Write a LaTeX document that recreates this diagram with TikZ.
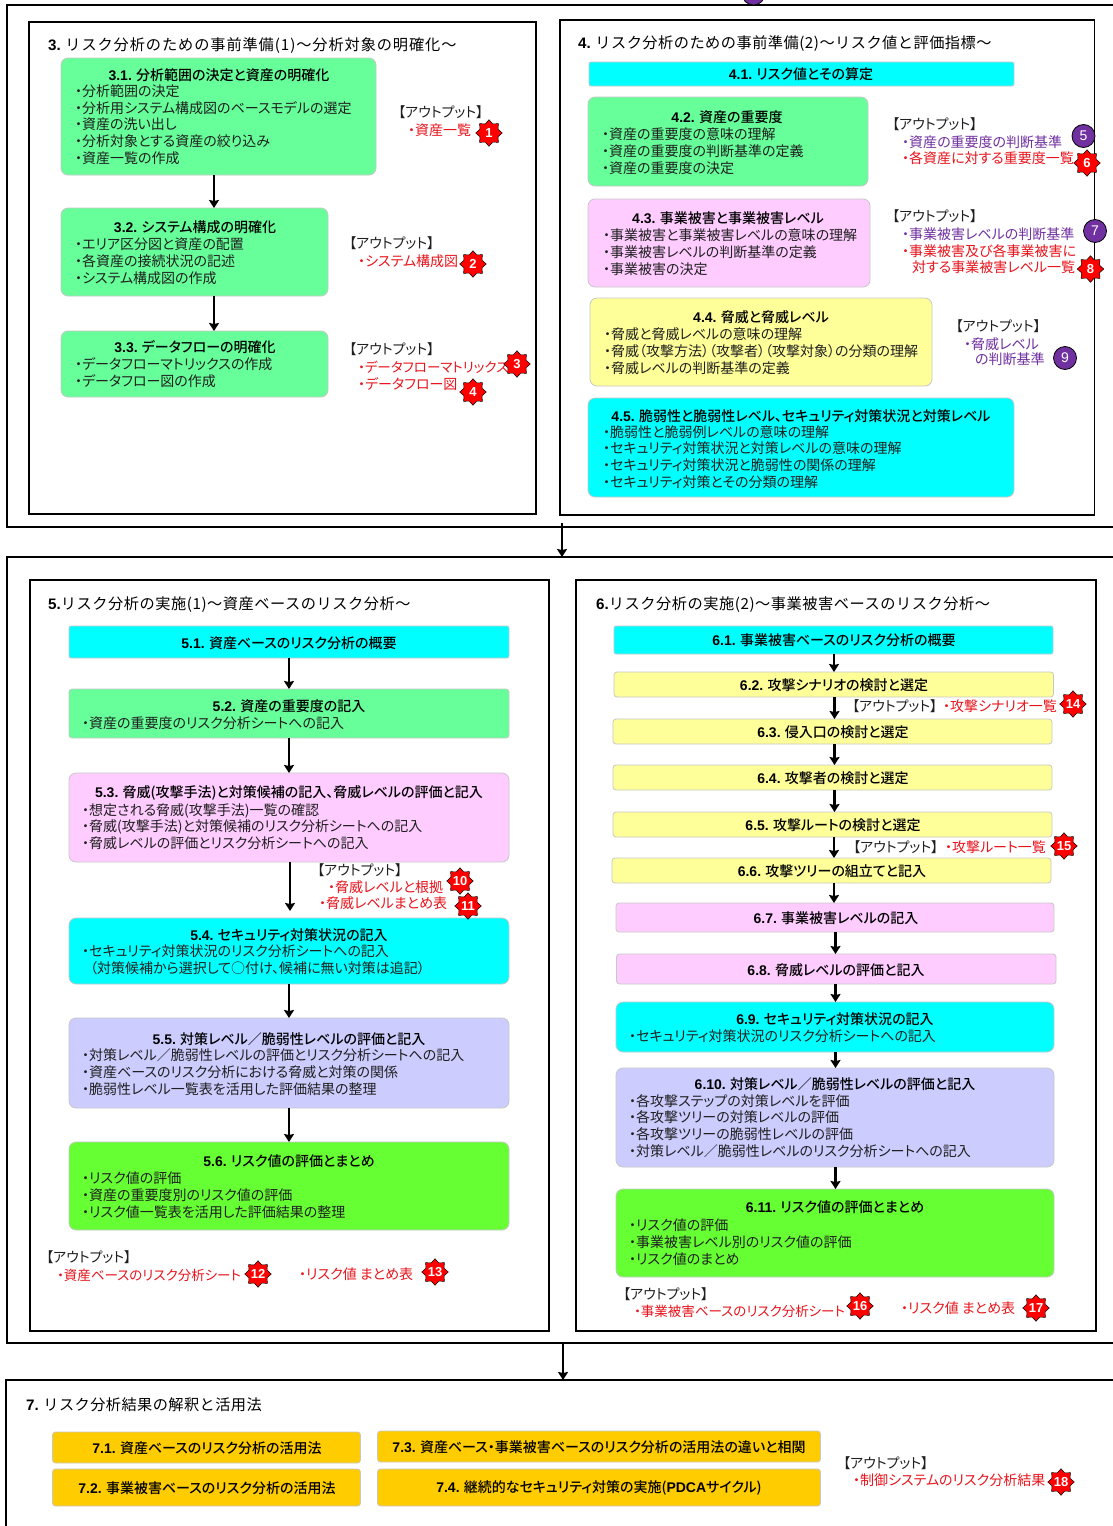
\documentclass[tikz,border=0pt]{standalone}
\usepackage{fontspec}
\usetikzlibrary{arrows.meta,shapes.geometric}
\setmainfont{Noto Sans CJK JP}[RawFeature={+palt},BoldFont={Noto Sans CJK JP Medium}]
\newfontfamily\wide{Noto Sans CJK JP}
\newfontfamily\lat{Liberation Sans}
\newcommand\nm[1]{{\lat\bfseries #1}}
\newcommand\snum[1]{\makebox[0pt]{#1}}
\newcommand\spaced[2]{\addfontfeature{LetterSpace=#1}#2}
\definecolor{cgreen}{HTML}{66FF99}
\definecolor{cpink}{HTML}{FFCCFF}
\definecolor{cyell}{HTML}{FFFF99}
\definecolor{ccyan}{HTML}{00FFFF}
\definecolor{clav}{HTML}{CCCCFF}
\definecolor{clime}{HTML}{66FF33}
\definecolor{corange}{HTML}{FFCC00}
\definecolor{cred}{HTML}{E8141C}
\definecolor{cpur}{HTML}{7030A0}
\tikzset{
 x=1pt,y=-1pt,
 framebox/.style={draw=black,line width=1.5pt,fill=white,anchor=north west,inner sep=0,outer sep=0},
 fbox/.style={draw=black!22,line width=.8pt,anchor=north west,inner sep=0,outer sep=0,rounded corners=7pt},
 thin box/.style={rounded corners=3pt},
 sect/.style={anchor=west,inner sep=0,font=\wide\fontsize{15.2}{18}\selectfont},
 ttl/.style={inner sep=0,font=\bfseries\fontsize{14}{17}\selectfont},
 lines/.style={anchor=west,align=left,inner sep=0,text=black!88,font=\fontsize{14}{16.75}\selectfont},
 outp/.style={anchor=west,inner sep=0,text=black!88,font=\fontsize{14}{16.75}\selectfont},
 redt/.style={outp,text=cred},
 purt/.style={outp,text=cpur},
 tight/.style={font=\fontsize{13.5}{16.75}\selectfont},
 arrow/.style={draw=black,line width=2.6pt,-{Stealth[length=8pt,width=10pt,inset=1pt]}},
 starb/.style={star,star points=8,star point ratio=1.35,minimum size=26.5pt,inner sep=0,fill=red,draw=black,line width=.5pt,text=white,font=\lat\bfseries\fontsize{13}{13}\selectfont},
 circb/.style={circle,minimum size=23pt,inner sep=0,fill=cpur,draw=black,line width=.8pt,text=white,font=\lat\fontsize{14}{14}\selectfont},
}
\newcommand{\flowbox}[7][]{\node[fbox,#1,fill=#3,minimum width={(#6-#4)*1pt},minimum height={(#7-#5)*1pt}] (#2) at (#4,#5) {};}
\newcommand{\frm}[5]{\node[framebox,minimum width={(#4-#2)*1pt},minimum height={(#5-#3)*1pt}] (#1) at (#2,#3) {};}
\begin{document}
\begin{tikzpicture}
\clip (0,0) rectangle (1113,1526);
\fill[white] (0,0) rectangle (1113,1526);
% outer frames
\frm{fa}{7}{5}{1135}{527}
\frm{fb}{7}{557}{1135}{1343}
\frm{fc}{6}{1380}{1135}{1545}
\node[circb] (topc) at (753.5,-6.5) {};
% inner frames
\frm{f3}{29}{22}{536}{514}
\frm{f4}{560}{20}{1094.5}{515}
\frm{f5}{30}{580}{549}{1331}
\frm{f6}{576}{580}{1096}{1331}
% section titles
\node[sect] (s3) at (48,46) {\nm{3.} \spaced{6}{リスク分析のための事前準備(1)～分析対象の明確化～}};
\node[sect] (s4) at (578,44) {\nm{4.} \spaced{3.2}{リスク分析のための事前準備(2)～リスク値と評価指標～}};
\node[sect] (s5) at (48,605) {\nm{5.}\spaced{3.6}{リスク分析の実施(1)～資産ベースのリスク分析～}};
\node[sect] (s6) at (596,605) {\nm{6.}\spaced{3.6}{リスク分析の実施(2)～事業被害ベースのリスク分析～}};
\node[sect] (s7) at (26,1405) {\nm{7.} \spaced{2.8}{リスク分析結果の解釈と活用法}};
% section 3
\flowbox{b31}{cgreen}{61}{58}{376}{175}
\flowbox{b32}{cgreen}{61}{208}{328}{296}
\flowbox{b33}{cgreen}{61}{331}{328}{397}
\node[ttl] (t31) at (219,75) {\nm{3.1.} 分析範囲の決定と資産の明確化};
\node[lines] (l31) at (75,124.5) {・分析範囲の決定\\・分析用システム構成図のベースモデルの選定\\・資産の洗い出し\\・分析対象とする資産の絞り込み\\・資産一覧の作成};
\node[ttl] (t32) at (195,227) {\nm{3.2.} システム構成の明確化};
\node[lines] (l32) at (75,261) {・エリア区分図と資産の配置\\・各資産の接続状況の記述\\・システム構成図の作成};
\node[ttl] (t33) at (195,347) {\nm{3.3.} データフローの明確化};
\node[lines] (l33) at (75,373) {・データフローマトリックスの作成\\・データフロー図の作成};
\draw[arrow] (214,0 |- b31.south) -- (214,0 |- b32.north);
\draw[arrow] (214,0 |- b32.south) -- (214,0 |- b33.north);
\node[outp] (o1) at (398,112) {【アウトプット】};
\node[redt] (r1) at (408,130) {・資産一覧};
\node[starb] (n1) at (489,133) {\snum{1}};
\node[outp] (o2) at (349,243) {【アウトプット】};
\node[redt] (r2) at (358,261) {・システム構成図};
\node[starb] (n2) at (473,264) {\snum{2}};
\node[outp] (o3) at (349,349) {【アウトプット】};
\node[redt,tight] (r3) at (358,367) {・データフローマトリックス};
\node[starb] (n3) at (517,364) {\snum{3}};
\node[redt] (r4) at (358,384) {・データフロー図};
\node[starb] (n4) at (473,392) {\snum{4}};
% section 4
\flowbox[rounded corners=2pt]{b41}{ccyan}{589}{62}{1014}{86}
\flowbox{b42}{cgreen}{588}{97}{868}{186}
\flowbox{b43}{cpink}{588}{199}{870}{287}
\flowbox{b44}{cyell}{590}{298}{932}{386}
\flowbox{b45}{ccyan}{588}{398}{1014}{497}
\node[ttl] (t41) at (801,74) {\nm{4.1.} リスク値とその算定};
\node[ttl] (t42) at (727,117) {\nm{4.2.} 資産の重要度};
\node[lines] (l42) at (602,151) {・資産の重要度の意味の理解\\・資産の重要度の判断基準の定義\\・資産の重要度の決定};
\node[ttl] (t43) at (728,218) {\nm{4.3.} 事業被害と事業被害レベル};
\node[lines] (l43) at (603,252) {・事業被害と事業被害レベルの意味の理解\\・事業被害レベルの判断基準の定義\\・事業被害の決定};
\node[ttl] (t44) at (761,317) {\nm{4.4.} 脅威と脅威レベル};
\node[lines] (l44) at (604,351) {・脅威と脅威レベルの意味の理解\\・脅威（攻撃方法）（攻撃者）（攻撃対象）の分類の理解\\・脅威レベルの判断基準の定義};
\node[ttl] (t45) at (801,416) {\nm{4.5.} 脆弱性と脆弱性レベル、セキュリティ対策状況と対策レベル};
\node[lines] (l45) at (603,457) {・脆弱性と脆弱例レベルの意味の理解\\・セキュリティ対策状況と対策レベルの意味の理解\\・セキュリティ対策状況と脆弱性の関係の理解\\・セキュリティ対策とその分類の理解};
\node[outp] (o5) at (892,124) {【アウトプット】};
\node[purt] (r5) at (902,142) {・資産の重要度の判断基準};
\node[redt] (r6) at (902,158) {・各資産に対する重要度一覧};
\node[circb] (n5) at (1083.5,136) {5};
\node[starb] (n6) at (1087,163) {\snum{6}};
\node[outp] (o7) at (892,216) {【アウトプット】};
\node[purt] (r7) at (902,234) {・事業被害レベルの判断基準};
\node[redt] (r8) at (902,251) {・事業被害及び各事業被害に};
\node[redt] (r8b) at (912,267) {対する事業被害レベル一覧};
\node[circb] (n7) at (1095,231) {7};
\node[starb] (n8) at (1090.5,269) {\snum{8}};
\node[outp] (o9) at (955.5,326) {【アウトプット】};
\node[purt] (r9) at (964,344) {・脅威レベル};
\node[purt] (r9b) at (975,359) {の判断基準};
\node[circb] (n9) at (1065,358) {9};
% between
\draw[arrow] (562,523) -- (562,0 |- fb.north);
% section 5
\flowbox[rounded corners=2pt]{b51}{ccyan}{69}{626}{509}{658}
\flowbox[thin box]{b52}{cgreen}{69}{689}{509}{738}
\flowbox{b53}{cpink}{69}{773}{509}{862}
\flowbox{b54}{ccyan}{69}{918}{509}{984}
\flowbox{b55}{clav}{69}{1018}{509}{1108}
\flowbox{b56}{clime}{69}{1142}{509}{1230}
\node[ttl] (t51) at (289,643) {\nm{5.1.} 資産ベースのリスク分析の概要};
\node[ttl] (t52) at (289,706) {\nm{5.2.} 資産の重要度の記入};
\node[lines] (l52) at (82,723) {・資産の重要度のリスク分析シートへの記入};
\node[ttl] (t53) at (289,793) {\nm{5.3.} 脅威(攻撃手法)と対策候補の記入、脅威レベルの評価と記入};
\node[lines] (l53) at (82,826.5) {・想定される脅威(攻撃手法)一覧の確認\\・脅威(攻撃手法)と対策候補のリスク分析シートへの記入\\・脅威レベルの評価とリスク分析シートへの記入};
\node[ttl] (t54) at (289,935) {\nm{5.4.} セキュリティ対策状況の記入};
\node[lines] (l54) at (82,960) {・セキュリティ対策状況のリスク分析シートへの記入\\\hspace*{8pt}（対策候補から選択して○付け、候補に無い対策は追記）};
\node[ttl] (t55) at (289,1039) {\nm{5.5.} 対策レベル／脆弱性レベルの評価と記入};
\node[lines] (l55) at (82,1072) {・対策レベル／脆弱性レベルの評価とリスク分析シートへの記入\\・資産ベースのリスク分析における脅威と対策の関係\\・脆弱性レベル一覧表を活用した評価結果の整理};
\node[ttl] (t56) at (289,1161) {\nm{5.6.} リスク値の評価とまとめ};
\node[lines] (l56) at (82,1195) {・リスク値の評価\\・資産の重要度別のリスク値の評価\\・リスク値一覧表を活用した評価結果の整理};
\draw[arrow] (289,0 |- b51.south) -- (289,0 |- b52.north);
\draw[arrow] (289,0 |- b52.south) -- (289,0 |- b53.north);
\draw[arrow] (290,0 |- b53.south) -- (290,911);
\draw[arrow] (289,0 |- b54.south) -- (289,0 |- b55.north);
\draw[arrow] (289,0 |- b55.south) -- (289,0 |- b56.north);
\node[outp] (o10) at (317,870) {【アウトプット】};
\node[redt] (r10) at (328,887) {・脅威レベルと根拠};
\node[redt] (r11) at (319,903) {・脅威レベルまとめ表};
\node[starb] (n10) at (460,881) {\snum{10}};
\node[starb] (n11) at (468,906) {\snum{11}};
\node[outp] (o12) at (46,1257) {【アウトプット】};
\node[redt,tight] (r12) at (57,1275) {・資産ベースのリスク分析シート};
\node[redt] (r13) at (299,1274) {・リスク値 まとめ表};
\node[starb] (n12) at (258,1274) {\snum{12}};
\node[starb] (n13) at (435,1272) {\snum{13}};
% section 6
\flowbox[rounded corners=2pt]{b61}{ccyan}{614}{626}{1053}{654}
\flowbox[thin box]{b62}{cyell}{614}{672}{1053.5}{697}
\flowbox[thin box]{b63}{cyell}{613}{719}{1052}{744}
\flowbox[thin box]{b64}{cyell}{613}{765}{1052}{790}
\flowbox[thin box]{b65}{cyell}{613}{812}{1052}{837}
\flowbox[thin box]{b66}{cyell}{612}{858}{1051}{883}
\flowbox[thin box]{b67}{cpink}{616}{903}{1054}{932}
\flowbox[thin box]{b68}{cpink}{616.5}{954}{1056}{984}
\flowbox{b69}{ccyan}{616}{1002}{1054}{1052}
\flowbox{b610}{clav}{616}{1068}{1054}{1167}
\flowbox{b611}{clime}{616}{1189}{1054}{1277}
\node[ttl] (t61) at (834,640) {\nm{6.1.} 事業被害ベースのリスク分析の概要};
\node[ttl] (t62) at (834,685) {\nm{6.2.} 攻撃シナリオの検討と選定};
\node[ttl] (t63) at (833,732) {\nm{6.3.} 侵入口の検討と選定};
\node[ttl] (t64) at (833,778) {\nm{6.4.} 攻撃者の検討と選定};
\node[ttl] (t65) at (833,825) {\nm{6.5.} 攻撃ルートの検討と選定};
\node[ttl] (t66) at (832,871) {\nm{6.6.} 攻撃ツリーの組立てと記入};
\node[ttl] (t67) at (836,918) {\nm{6.7.} 事業被害レベルの記入};
\node[ttl] (t68) at (836,970) {\nm{6.8.} 脅威レベルの評価と記入};
\node[ttl] (t69) at (835,1019) {\nm{6.9.} セキュリティ対策状況の記入};
\node[lines] (l69) at (629,1036) {・セキュリティ対策状況のリスク分析シートへの記入};
\node[ttl] (t610) at (835,1084) {\nm{6.10.} 対策レベル／脆弱性レベルの評価と記入};
\node[lines] (l610) at (629,1126) {・各攻撃ステップの対策レベルを評価\\・各攻撃ツリーの対策レベルの評価\\・各攻撃ツリーの脆弱性レベルの評価\\・対策レベル／脆弱性レベルのリスク分析シートへの記入};
\node[ttl] (t611) at (835,1207) {\nm{6.11.} リスク値の評価とまとめ};
\node[lines] (l611) at (629,1242) {・リスク値の評価\\・事業被害レベル別のリスク値の評価\\・リスク値のまとめ};
\draw[arrow] (834,0 |- b61.south) -- (834,0 |- b62.north);
\draw[arrow] (834.5,0 |- b62.south) -- (834.5,0 |- b63.north);
\draw[arrow] (834.5,0 |- b63.south) -- (834.5,0 |- b64.north);
\draw[arrow] (834.5,0 |- b64.south) -- (834.5,0 |- b65.north);
\draw[arrow] (834,0 |- b65.south) -- (834,0 |- b66.north);
\draw[arrow] (834,0 |- b66.south) -- (834,0 |- b67.north);
\draw[arrow] (835.5,0 |- b67.south) -- (835.5,0 |- b68.north);
\draw[arrow] (835.5,0 |- b68.south) -- (835.5,0 |- b69.north);
\draw[arrow] (835.5,0 |- b69.south) -- (835.5,0 |- b610.north);
\draw[arrow] (835.5,0 |- b610.south) -- (835.5,0 |- b611.north);
\node[outp] (o14) at (852,706) {【アウトプット】};
\node[redt] (r14) at (943,706) {・攻撃シナリオ一覧};
\node[starb] (n14) at (1073,704) {\snum{14}};
\node[outp] (o15) at (853,847) {【アウトプット】};
\node[redt] (r15) at (945,847) {・攻撃ルート一覧};
\node[starb] (n15) at (1064,846) {\snum{15}};
\node[outp] (o16) at (623,1294) {【アウトプット】};
\node[redt,tight] (r16) at (634,1311) {・事業被害ベースのリスク分析シート};
\node[redt] (r17) at (901,1308) {・リスク値 まとめ表};
\node[starb] (n16) at (860,1306) {\snum{16}};
\node[starb] (n17) at (1036,1308) {\snum{17}};
% between
\draw[arrow] (563,0 |- fb.south) -- (563,0 |- fc.north);
% section 7
\flowbox[thin box]{b71}{corange}{52.5}{1432}{360.5}{1463}
\flowbox[thin box]{b72}{corange}{52.5}{1469}{360.5}{1506}
\flowbox[thin box]{b73}{corange}{377.5}{1431}{820.5}{1462}
\flowbox[thin box]{b74}{corange}{377.5}{1469}{820.5}{1506}
\node[ttl] (t71) at (207,1448) {\nm{7.1.} 資産ベースのリスク分析の活用法};
\node[ttl] (t72) at (207,1488) {\nm{7.2.} 事業被害ベースのリスク分析の活用法};
\node[ttl] (t73) at (599,1447) {\nm{7.3.} 資産ベース・事業被害ベースのリスク分析の活用法の違いと相関};
\node[ttl] (t74) at (599,1488) {\nm{7.4.} 継続的なセキュリティ対策の実施(\nm{PDCA}サイクル)};
\node[outp] (o18) at (843,1463) {【アウトプット】};
\node[redt] (r18) at (853,1480) {・制御システムのリスク分析結果};
\node[starb] (n18) at (1061,1482) {\snum{18}};
\end{tikzpicture}
\end{document}
